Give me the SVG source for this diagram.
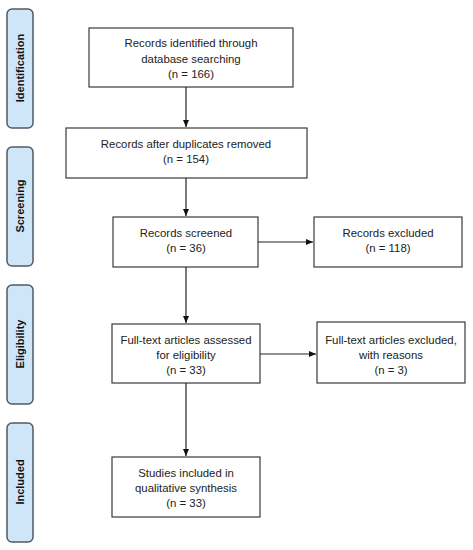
<svg xmlns="http://www.w3.org/2000/svg" width="473" height="550" viewBox="0 0 473 550">
<style>
.box{fill:#fff;stroke:#3a3a3a;stroke-width:1.2}
.side{fill:#cfe6f8;stroke:#4f5b66;stroke-width:1.5}
.t{font-family:"Liberation Sans",Arial,sans-serif;font-size:11.4px;fill:#222;text-anchor:middle}
.s{font-family:"Liberation Sans",Arial,sans-serif;font-size:11px;font-weight:bold;fill:#111;text-anchor:middle}
.c{stroke:#222;stroke-width:1.2;fill:none;marker-end:url(#ah)}
</style>
<defs>
<marker id="ah" markerWidth="8" markerHeight="8" refX="7" refY="4" orient="auto" markerUnits="userSpaceOnUse">
<path d="M0,1 L7,4 L0,7 Z" fill="#111"/>
</marker>
</defs>
<g id="side-identification"><rect class="side" x="7" y="9" width="26" height="119" rx="5"/><text class="s" transform="translate(24,68) rotate(-90)">Identification</text></g>
<g id="side-screening"><rect class="side" x="7" y="147" width="26" height="119" rx="5"/><text class="s" transform="translate(24,206) rotate(-90)">Screening</text></g>
<g id="side-eligibility"><rect class="side" x="7" y="285" width="26" height="119" rx="5"/><text class="s" transform="translate(24,344) rotate(-90)">Eligibility</text></g>
<g id="side-included"><rect class="side" x="7" y="423" width="26" height="119" rx="5"/><text class="s" transform="translate(24,482) rotate(-90)">Included</text></g>
<g id="identified"><rect class="box" x="89" y="28" width="204" height="59"/><text class="t" x="191" y="47">Records identified through</text><text class="t" x="191" y="63">database searching</text><text class="t" x="191" y="78">(n = 166)</text></g>
<g id="dedup"><rect class="box" x="66" y="128" width="241" height="50"/><text class="t" x="186" y="148">Records after duplicates removed</text><text class="t" x="186" y="163">(n = 154)</text></g>
<g id="screened"><rect class="box" x="113" y="217" width="145" height="50"/><text class="t" x="186" y="237">Records screened</text><text class="t" x="186" y="252">(n = 36)</text></g>
<g id="excluded"><rect class="box" x="314" y="217" width="148" height="50"/><text class="t" x="388" y="237">Records excluded</text><text class="t" x="388" y="252">(n = 118)</text></g>
<g id="fulltext"><rect class="box" x="112" y="324" width="148" height="59"/><text class="t" x="186" y="344">Full-text articles assessed</text><text class="t" x="186" y="359">for eligibility</text><text class="t" x="186" y="374">(n = 33)</text></g>
<g id="ft-excluded"><rect class="box" x="317" y="322" width="148" height="61"/><text class="t" x="391" y="344">Full-text articles excluded,</text><text class="t" x="391" y="359">with reasons</text><text class="t" x="391" y="374">(n = 3)</text></g>
<g id="included"><rect class="box" x="112" y="457" width="148" height="60"/><text class="t" x="186" y="477">Studies included in</text><text class="t" x="186" y="492">qualitative synthesis</text><text class="t" x="186" y="507">(n = 33)</text></g>
<g id="connectors">
<path class="c" d="M186,87 V127"/>
<path class="c" d="M186,178 V216"/>
<path class="c" d="M258,242 H313"/>
<path class="c" d="M186,267 V323"/>
<path class="c" d="M260,354 H316"/>
<path class="c" d="M186,383 V456"/>
</g>
</svg>
